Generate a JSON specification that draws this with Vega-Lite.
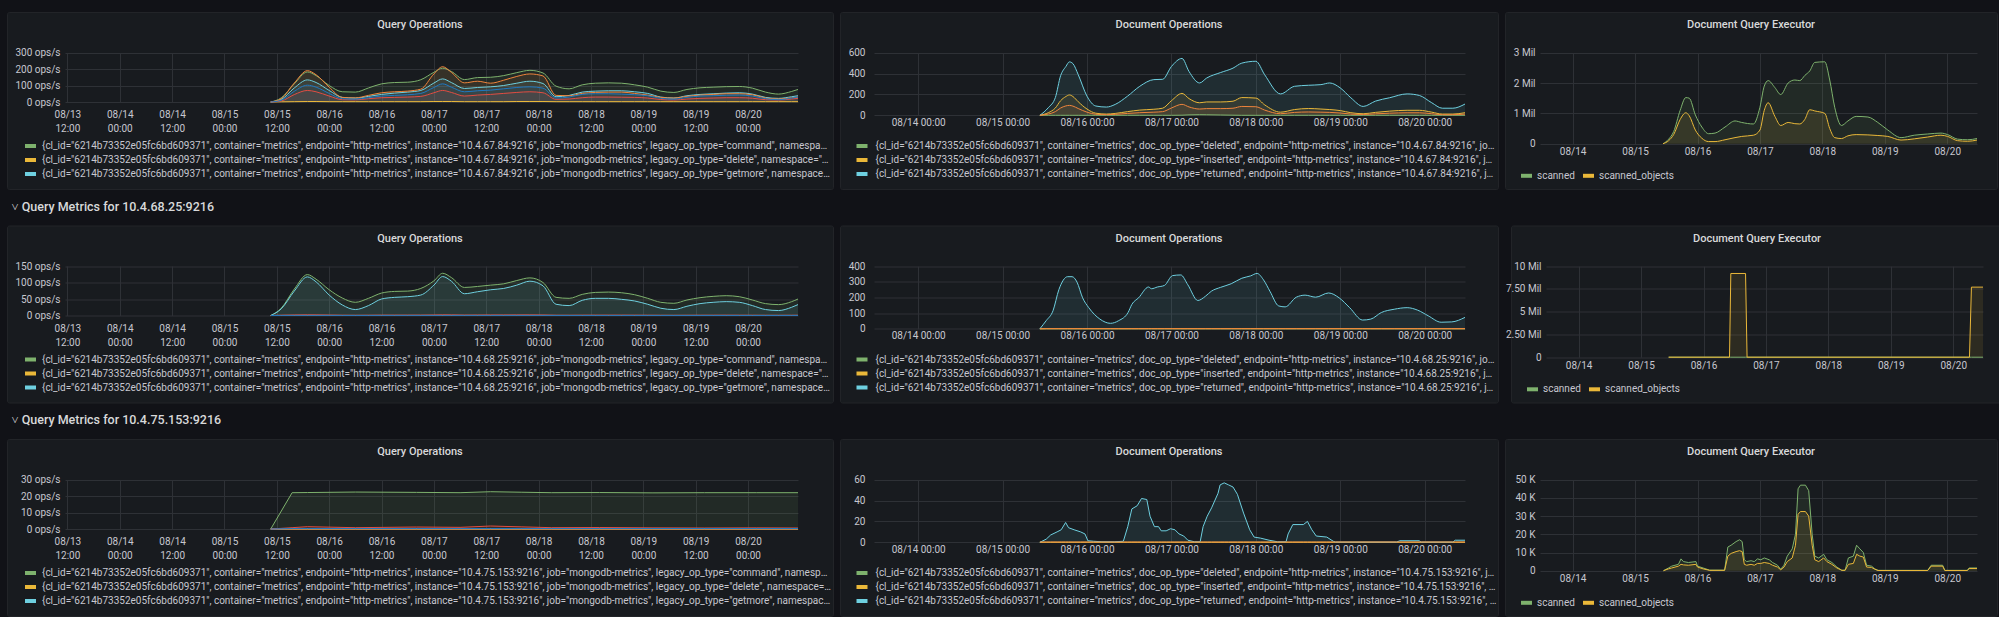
{
  "$schema": "https://vega.github.io/schema/vega-lite/v6.json",
  "background": "#111217",
  "padding": {"left": 6, "top": 11, "right": 7, "bottom": 0},
  "config": {
    "font": "Roboto",
    "view": {"fill": "#181b1f", "stroke": "#222428", "cornerRadius": 2},
    "axis": {"domain": false, "ticks": false, "labelFont": "Roboto", "labelFontSize": 10, "labelColor": "#c7c7cf", "gridColor": "#2e3136", "gridOpacity": 1, "gridWidth": 1, "labelFlush": false, "labelOverlap": false},
    "title": {"font": "Roboto", "fontSize": 11, "fontWeight": 500, "color": "#d8d9da", "offset": -18, "anchor": "middle"},
    "legend": {"labelFont": "Roboto", "labelFontSize": 10, "labelColor": "#c7c7cf", "symbolType": "stroke", "symbolSize": 121, "symbolStrokeWidth": 4, "rowPadding": -3, "padding": 0, "gridAlign": "none"}
  },
  "spacing": 10.5,
  "resolve": {"scale": {"color": "independent"}, "legend": {"color": "independent"}},
  "vconcat": [
    {
      "spacing": 5,
      "resolve": {"scale": {"color": "independent"}, "legend": {"color": "independent"}},
      "hconcat": [
        {
          "width": 826, "height": 177,
          "title": "Query Operations",
          "data": {"values": [
            {"t": "2022-08-15T10:36:00Z", "command": 0, "delete": 0, "getmore": 0, "insert": 0, "query": 0, "update": 0},
            {"t": "2022-08-15T13:00:00Z", "command": 25, "delete": 1, "getmore": 15, "insert": 20, "query": 6, "update": 10},
            {"t": "2022-08-15T16:00:00Z", "command": 110, "delete": 2, "getmore": 85, "insert": 115, "query": 45, "update": 65},
            {"t": "2022-08-15T19:00:00Z", "command": 182, "delete": 3, "getmore": 134, "insert": 190, "query": 70, "update": 102},
            {"t": "2022-08-15T21:00:00Z", "command": 160, "delete": 3, "getmore": 118, "insert": 165, "query": 62, "update": 90},
            {"t": "2022-08-16T00:00:00Z", "command": 100, "delete": 2, "getmore": 70, "insert": 90, "query": 36, "update": 52},
            {"t": "2022-08-16T03:00:00Z", "command": 62, "delete": 2, "getmore": 28, "insert": 28, "query": 14, "update": 20},
            {"t": "2022-08-16T06:00:00Z", "command": 60, "delete": 2, "getmore": 24, "insert": 25, "query": 13, "update": 17},
            {"t": "2022-08-16T09:00:00Z", "command": 85, "delete": 2, "getmore": 34, "insert": 40, "query": 20, "update": 26},
            {"t": "2022-08-16T12:00:00Z", "command": 110, "delete": 2, "getmore": 46, "insert": 56, "query": 26, "update": 36},
            {"t": "2022-08-16T15:00:00Z", "command": 118, "delete": 2, "getmore": 54, "insert": 62, "query": 28, "update": 40},
            {"t": "2022-08-16T18:00:00Z", "command": 120, "delete": 2, "getmore": 60, "insert": 66, "query": 30, "update": 44},
            {"t": "2022-08-16T21:00:00Z", "command": 135, "delete": 2, "getmore": 70, "insert": 78, "query": 34, "update": 52},
            {"t": "2022-08-17T00:00:00Z", "command": 180, "delete": 3, "getmore": 115, "insert": 170, "query": 56, "update": 88},
            {"t": "2022-08-17T02:00:00Z", "command": 205, "delete": 3, "getmore": 140, "insert": 214, "query": 70, "update": 110},
            {"t": "2022-08-17T04:00:00Z", "command": 185, "delete": 3, "getmore": 118, "insert": 180, "query": 58, "update": 90},
            {"t": "2022-08-17T07:00:00Z", "command": 136, "delete": 2, "getmore": 82, "insert": 116, "query": 36, "update": 62},
            {"t": "2022-08-17T10:00:00Z", "command": 148, "delete": 2, "getmore": 88, "insert": 126, "query": 42, "update": 68},
            {"t": "2022-08-17T13:00:00Z", "command": 150, "delete": 2, "getmore": 92, "insert": 114, "query": 46, "update": 72},
            {"t": "2022-08-17T16:00:00Z", "command": 160, "delete": 2, "getmore": 100, "insert": 132, "query": 52, "update": 80},
            {"t": "2022-08-17T19:00:00Z", "command": 178, "delete": 3, "getmore": 114, "insert": 155, "query": 58, "update": 88},
            {"t": "2022-08-17T22:00:00Z", "command": 192, "delete": 3, "getmore": 126, "insert": 170, "query": 62, "update": 92},
            {"t": "2022-08-18T01:00:00Z", "command": 176, "delete": 3, "getmore": 112, "insert": 158, "query": 56, "update": 84},
            {"t": "2022-08-18T04:00:00Z", "command": 96, "delete": 2, "getmore": 32, "insert": 40, "query": 16, "update": 24},
            {"t": "2022-08-18T07:00:00Z", "command": 80, "delete": 2, "getmore": 40, "insert": 38, "query": 18, "update": 30},
            {"t": "2022-08-18T10:00:00Z", "command": 104, "delete": 2, "getmore": 60, "insert": 52, "query": 26, "update": 46},
            {"t": "2022-08-18T13:00:00Z", "command": 114, "delete": 2, "getmore": 66, "insert": 58, "query": 30, "update": 50},
            {"t": "2022-08-18T16:00:00Z", "command": 116, "delete": 2, "getmore": 68, "insert": 60, "query": 30, "update": 50},
            {"t": "2022-08-18T19:00:00Z", "command": 114, "delete": 2, "getmore": 68, "insert": 60, "query": 29, "update": 48},
            {"t": "2022-08-18T22:00:00Z", "command": 104, "delete": 2, "getmore": 62, "insert": 52, "query": 28, "update": 44},
            {"t": "2022-08-19T01:00:00Z", "command": 90, "delete": 2, "getmore": 52, "insert": 42, "query": 24, "update": 38},
            {"t": "2022-08-19T04:00:00Z", "command": 66, "delete": 2, "getmore": 30, "insert": 28, "query": 15, "update": 22},
            {"t": "2022-08-19T07:00:00Z", "command": 58, "delete": 2, "getmore": 24, "insert": 24, "query": 12, "update": 17},
            {"t": "2022-08-19T10:00:00Z", "command": 76, "delete": 2, "getmore": 38, "insert": 34, "query": 18, "update": 28},
            {"t": "2022-08-19T13:00:00Z", "command": 86, "delete": 2, "getmore": 46, "insert": 42, "query": 22, "update": 36},
            {"t": "2022-08-19T16:00:00Z", "command": 90, "delete": 2, "getmore": 50, "insert": 46, "query": 24, "update": 38},
            {"t": "2022-08-19T19:00:00Z", "command": 93, "delete": 2, "getmore": 54, "insert": 50, "query": 26, "update": 41},
            {"t": "2022-08-19T22:00:00Z", "command": 94, "delete": 2, "getmore": 56, "insert": 50, "query": 26, "update": 42},
            {"t": "2022-08-20T01:00:00Z", "command": 84, "delete": 2, "getmore": 48, "insert": 44, "query": 23, "update": 36},
            {"t": "2022-08-20T04:00:00Z", "command": 60, "delete": 2, "getmore": 28, "insert": 24, "query": 14, "update": 20},
            {"t": "2022-08-20T07:00:00Z", "command": 48, "delete": 2, "getmore": 22, "insert": 18, "query": 12, "update": 14},
            {"t": "2022-08-20T10:00:00Z", "command": 64, "delete": 2, "getmore": 32, "insert": 26, "query": 18, "update": 24},
            {"t": "2022-08-20T11:27:00Z", "command": 76, "delete": 2, "getmore": 38, "insert": 30, "query": 22, "update": 30}
          ]},
          "transform": [{"fold": ["command", "delete", "getmore", "insert", "query", "update"], "as": ["op", "v"]}],
          "layer": [
            {
              "mark": {"type": "area", "fillOpacity": 0.1, "interpolate": "monotone"},
              "encoding": {
                "x": {"field": "t", "type": "temporal", "scale": {"type": "utc", "domain": [1660390020000, 1660994820000], "range": [58, 791], "nice": false}, "axis": {"orient": "top", "labels": false, "grid": true, "values": [1660392000000, 1660435200000, 1660478400000, 1660521600000, 1660564800000, 1660608000000, 1660651200000, 1660694400000, 1660737600000, 1660780800000, 1660824000000, 1660867200000, 1660910400000, 1660953600000], "title": null}},
                "y": {"field": "v", "type": "quantitative", "stack": null, "scale": {"domain": [0, 300], "range": [90, 40.5], "nice": false}, "axis": {"values": [0, 100, 200, 300], "labelExpr": "datum.value + ' ops/s'", "offset": -58, "labelPadding": 5, "grid": true, "title": null}},
                "color": {"field": "op", "type": "nominal", "scale": {"domain": ["command", "delete", "getmore", "insert", "query", "update"], "range": ["#7EB26D", "#EAB839", "#6ED0E0", "#EF843C", "#E24D42", "#1F78C1"]}, "legend": null}
              }
            },
            {
              "mark": {"type": "line", "strokeWidth": 1, "interpolate": "monotone"},
              "encoding": {
                "x": {"field": "t", "type": "temporal", "scale": {"type": "utc", "domain": [1660390020000, 1660994820000], "range": [58, 791], "nice": false}, "axis": {"orient": "bottom", "grid": false, "offset": -87, "labelPadding": 7.5, "labelLineHeight": 14, "values": [1660392000000, 1660435200000, 1660478400000, 1660521600000, 1660564800000, 1660608000000, 1660651200000, 1660694400000, 1660737600000, 1660780800000, 1660824000000, 1660867200000, 1660910400000, 1660953600000], "labelExpr": "[utcFormat(datum.value, '%m/%d'), utcFormat(datum.value, '%H:%M')]", "title": null}},
                "y": {"field": "v", "type": "quantitative", "stack": null, "scale": {"domain": [0, 300], "range": [90, 40.5], "nice": false}, "axis": null},
                "color": {"field": "op", "type": "nominal", "scale": {"domain": ["command", "delete", "getmore", "insert", "query", "update"], "range": ["#7EB26D", "#EAB839", "#6ED0E0", "#EF843C", "#E24D42", "#1F78C1"]}, "legend": {"orient": "none", "legendX": 16, "legendY": 126.5, "values": ["command", "delete", "getmore"], "labelLimit": 790, "labelOffset": 4, "title": null, "labelExpr": "'{cl_id=\"6214b73352e05fc6bd609371\", container=\"metrics\", endpoint=\"http-metrics\", instance=\"10.4.67.84:9216\", job=\"mongodb-metrics\", legacy_op_type=\"' + datum.label + '\", namespace=\"monitoring\"}'"}}
              }
            }
          ],
          "resolve": {"axis": {"x": "independent", "y": "independent"}, "legend": {"color": "independent"}}
        },
        {
          "width": 658, "height": 177,
          "title": "Document Operations",
          "data": {"values": [
            {"t": "2022-08-15T10:36:00Z", "deleted": 0, "inserted": 0, "returned": 0, "updated": 0},
            {"t": "2022-08-15T13:00:00Z", "deleted": 0, "inserted": 25, "returned": 73, "updated": 12},
            {"t": "2022-08-15T15:00:00Z", "deleted": 0, "inserted": 70, "returned": 170, "updated": 35},
            {"t": "2022-08-15T16:30:00Z", "deleted": 0, "inserted": 140, "returned": 380, "updated": 70},
            {"t": "2022-08-15T18:00:00Z", "deleted": 0, "inserted": 180, "returned": 468, "updated": 90},
            {"t": "2022-08-15T19:00:00Z", "deleted": 0, "inserted": 195, "returned": 512, "updated": 95},
            {"t": "2022-08-15T20:00:00Z", "deleted": 0, "inserted": 180, "returned": 495, "updated": 88},
            {"t": "2022-08-15T21:30:00Z", "deleted": 0, "inserted": 130, "returned": 390, "updated": 65},
            {"t": "2022-08-16T00:00:00Z", "deleted": 0, "inserted": 60, "returned": 183, "updated": 30},
            {"t": "2022-08-16T02:30:00Z", "deleted": 0, "inserted": 20, "returned": 89, "updated": 10},
            {"t": "2022-08-16T05:30:00Z", "deleted": 0, "inserted": 12, "returned": 79, "updated": 6},
            {"t": "2022-08-16T08:00:00Z", "deleted": 0, "inserted": 18, "returned": 104, "updated": 9},
            {"t": "2022-08-16T11:30:00Z", "deleted": 0, "inserted": 35, "returned": 183, "updated": 18},
            {"t": "2022-08-16T15:00:00Z", "deleted": 0, "inserted": 50, "returned": 278, "updated": 25},
            {"t": "2022-08-16T19:00:00Z", "deleted": 0, "inserted": 58, "returned": 342, "updated": 30},
            {"t": "2022-08-16T21:30:00Z", "deleted": 0, "inserted": 68, "returned": 345, "updated": 35},
            {"t": "2022-08-17T00:00:00Z", "deleted": 0, "inserted": 140, "returned": 468, "updated": 70},
            {"t": "2022-08-17T03:00:00Z", "deleted": 1, "inserted": 210, "returned": 545, "updated": 105},
            {"t": "2022-08-17T05:00:00Z", "deleted": 4, "inserted": 160, "returned": 420, "updated": 80},
            {"t": "2022-08-17T08:00:00Z", "deleted": 6, "inserted": 120, "returned": 310, "updated": 60},
            {"t": "2022-08-17T10:00:00Z", "deleted": 5, "inserted": 128, "returned": 357, "updated": 64},
            {"t": "2022-08-17T14:00:00Z", "deleted": 3, "inserted": 128, "returned": 410, "updated": 64},
            {"t": "2022-08-17T17:30:00Z", "deleted": 1, "inserted": 135, "returned": 452, "updated": 68},
            {"t": "2022-08-17T20:00:00Z", "deleted": 0, "inserted": 170, "returned": 500, "updated": 85},
            {"t": "2022-08-18T00:00:00Z", "deleted": 0, "inserted": 165, "returned": 518, "updated": 82},
            {"t": "2022-08-18T02:30:00Z", "deleted": 0, "inserted": 100, "returned": 389, "updated": 50},
            {"t": "2022-08-18T07:00:00Z", "deleted": 0, "inserted": 30, "returned": 205, "updated": 15},
            {"t": "2022-08-18T11:00:00Z", "deleted": 0, "inserted": 55, "returned": 278, "updated": 28},
            {"t": "2022-08-18T15:00:00Z", "deleted": 0, "inserted": 65, "returned": 288, "updated": 32},
            {"t": "2022-08-18T18:30:00Z", "deleted": 0, "inserted": 60, "returned": 294, "updated": 30},
            {"t": "2022-08-18T21:00:00Z", "deleted": 0, "inserted": 55, "returned": 310, "updated": 28},
            {"t": "2022-08-19T00:00:00Z", "deleted": 0, "inserted": 45, "returned": 262, "updated": 22},
            {"t": "2022-08-19T03:00:00Z", "deleted": 0, "inserted": 25, "returned": 168, "updated": 12},
            {"t": "2022-08-19T06:30:00Z", "deleted": 0, "inserted": 15, "returned": 85, "updated": 8},
            {"t": "2022-08-19T10:00:00Z", "deleted": 0, "inserted": 28, "returned": 136, "updated": 14},
            {"t": "2022-08-19T14:00:00Z", "deleted": 0, "inserted": 40, "returned": 168, "updated": 20},
            {"t": "2022-08-19T19:00:00Z", "deleted": 0, "inserted": 48, "returned": 205, "updated": 24},
            {"t": "2022-08-19T22:30:00Z", "deleted": 0, "inserted": 48, "returned": 190, "updated": 24},
            {"t": "2022-08-20T02:00:00Z", "deleted": 0, "inserted": 30, "returned": 120, "updated": 15},
            {"t": "2022-08-20T05:00:00Z", "deleted": 0, "inserted": 12, "returned": 68, "updated": 6},
            {"t": "2022-08-20T08:00:00Z", "deleted": 0, "inserted": 12, "returned": 68, "updated": 6},
            {"t": "2022-08-20T11:27:00Z", "deleted": 0, "inserted": 25, "returned": 108, "updated": 12}
          ]},
          "transform": [{"fold": ["deleted", "inserted", "returned", "updated"], "as": ["op", "v"]}],
          "layer": [
            {
              "mark": {"type": "area", "fillOpacity": 0.1, "interpolate": "monotone"},
              "encoding": {
                "x": {"field": "t", "type": "temporal", "scale": {"type": "utc", "domain": [1660390020000, 1660994820000], "range": [34, 625], "nice": false}, "axis": {"orient": "top", "labels": false, "grid": true, "values": [1660435200000, 1660521600000, 1660608000000, 1660694400000, 1660780800000, 1660867200000, 1660953600000], "title": null}},
                "y": {"field": "v", "type": "quantitative", "stack": null, "scale": {"domain": [0, 600], "range": [103.3, 40.7], "nice": false}, "axis": {"values": [0, 200, 400, 600], "offset": -34, "labelPadding": 9, "grid": true, "title": null}},
                "color": {"field": "op", "type": "nominal", "scale": {"domain": ["deleted", "inserted", "returned", "updated"], "range": ["#7EB26D", "#EAB839", "#6ED0E0", "#EF843C"]}, "legend": null}
              }
            },
            {
              "mark": {"type": "line", "strokeWidth": 1, "interpolate": "monotone"},
              "encoding": {
                "x": {"field": "t", "type": "temporal", "scale": {"type": "utc", "domain": [1660390020000, 1660994820000], "range": [34, 625], "nice": false}, "axis": {"orient": "bottom", "grid": false, "offset": -73.7, "labelPadding": 2, "values": [1660435200000, 1660521600000, 1660608000000, 1660694400000, 1660780800000, 1660867200000, 1660953600000], "labelExpr": "utcFormat(datum.value, '%m/%d %H:%M')", "title": null}},
                "y": {"field": "v", "type": "quantitative", "stack": null, "scale": {"domain": [0, 600], "range": [103.3, 40.7], "nice": false}, "axis": null},
                "color": {"field": "op", "type": "nominal", "scale": {"domain": ["deleted", "inserted", "returned", "updated"], "range": ["#7EB26D", "#EAB839", "#6ED0E0", "#EF843C"]}, "legend": {"orient": "none", "legendX": 14.5, "legendY": 126.5, "values": ["deleted", "inserted", "returned"], "labelLimit": 622, "labelOffset": 6, "title": null, "labelExpr": "'{cl_id=\"6214b73352e05fc6bd609371\", container=\"metrics\", doc_op_type=\"' + datum.label + '\", endpoint=\"http-metrics\", instance=\"10.4.67.84:9216\", job=\"mongodb-metrics\"}'"}}
              }
            }
          ],
          "resolve": {"axis": {"x": "independent", "y": "independent"}, "legend": {"color": "independent"}}
        },
        {
          "width": 492, "height": 177,
          "title": "Document Query Executor",
          "data": {"values": [
            {"t": "2022-08-15T10:45:00Z", "scanned": 0, "scanned_objects": 0},
            {"t": "2022-08-15T12:55:00Z", "scanned": 150000, "scanned_objects": 100000},
            {"t": "2022-08-15T14:50:00Z", "scanned": 400000, "scanned_objects": 300000},
            {"t": "2022-08-15T17:20:00Z", "scanned": 1100000, "scanned_objects": 800000},
            {"t": "2022-08-15T19:30:00Z", "scanned": 1520000, "scanned_objects": 1020000},
            {"t": "2022-08-15T20:50:00Z", "scanned": 1500000, "scanned_objects": 920000},
            {"t": "2022-08-15T23:10:00Z", "scanned": 950000, "scanned_objects": 450000},
            {"t": "2022-08-16T01:40:00Z", "scanned": 550000, "scanned_objects": 180000},
            {"t": "2022-08-16T04:15:00Z", "scanned": 330000, "scanned_objects": 70000},
            {"t": "2022-08-16T06:45:00Z", "scanned": 350000, "scanned_objects": 70000},
            {"t": "2022-08-16T10:35:00Z", "scanned": 550000, "scanned_objects": 130000},
            {"t": "2022-08-16T14:25:00Z", "scanned": 750000, "scanned_objects": 200000},
            {"t": "2022-08-16T17:00:00Z", "scanned": 700000, "scanned_objects": 240000},
            {"t": "2022-08-16T21:30:00Z", "scanned": 650000, "scanned_objects": 280000},
            {"t": "2022-08-17T00:00:00Z", "scanned": 1200000, "scanned_objects": 450000},
            {"t": "2022-08-17T01:40:00Z", "scanned": 1900000, "scanned_objects": 1100000},
            {"t": "2022-08-17T03:10:00Z", "scanned": 2080000, "scanned_objects": 1350000},
            {"t": "2022-08-17T05:45:00Z", "scanned": 1850000, "scanned_objects": 900000},
            {"t": "2022-08-17T08:00:00Z", "scanned": 1620000, "scanned_objects": 600000},
            {"t": "2022-08-17T10:50:00Z", "scanned": 2000000, "scanned_objects": 700000},
            {"t": "2022-08-17T13:25:00Z", "scanned": 2100000, "scanned_objects": 660000},
            {"t": "2022-08-17T15:20:00Z", "scanned": 2080000, "scanned_objects": 650000},
            {"t": "2022-08-17T17:15:00Z", "scanned": 2250000, "scanned_objects": 800000},
            {"t": "2022-08-17T19:10:00Z", "scanned": 2400000, "scanned_objects": 1120000},
            {"t": "2022-08-17T21:05:00Z", "scanned": 2680000, "scanned_objects": 1080000},
            {"t": "2022-08-18T00:55:00Z", "scanned": 2700000, "scanned_objects": 1000000},
            {"t": "2022-08-18T02:50:00Z", "scanned": 2100000, "scanned_objects": 500000},
            {"t": "2022-08-18T04:45:00Z", "scanned": 1200000, "scanned_objects": 200000},
            {"t": "2022-08-18T07:20:00Z", "scanned": 600000, "scanned_objects": 170000},
            {"t": "2022-08-18T09:50:00Z", "scanned": 750000, "scanned_objects": 260000},
            {"t": "2022-08-18T13:00:00Z", "scanned": 900000, "scanned_objects": 300000},
            {"t": "2022-08-18T17:30:00Z", "scanned": 880000, "scanned_objects": 290000},
            {"t": "2022-08-18T21:20:00Z", "scanned": 700000, "scanned_objects": 270000},
            {"t": "2022-08-19T01:10:00Z", "scanned": 450000, "scanned_objects": 240000},
            {"t": "2022-08-19T06:15:00Z", "scanned": 200000, "scanned_objects": 120000},
            {"t": "2022-08-19T11:20:00Z", "scanned": 280000, "scanned_objects": 160000},
            {"t": "2022-08-19T16:30:00Z", "scanned": 320000, "scanned_objects": 220000},
            {"t": "2022-08-19T21:35:00Z", "scanned": 350000, "scanned_objects": 280000},
            {"t": "2022-08-20T00:10:00Z", "scanned": 300000, "scanned_objects": 240000},
            {"t": "2022-08-20T04:00:00Z", "scanned": 150000, "scanned_objects": 100000},
            {"t": "2022-08-20T07:50:00Z", "scanned": 130000, "scanned_objects": 80000},
            {"t": "2022-08-20T11:27:00Z", "scanned": 170000, "scanned_objects": 120000}
          ]},
          "transform": [{"fold": ["scanned", "scanned_objects"], "as": ["op", "v"]}],
          "layer": [
            {
              "mark": {"type": "area", "fillOpacity": 0.1, "interpolate": "monotone"},
              "encoding": {
                "x": {"field": "t", "type": "temporal", "scale": {"type": "utc", "domain": [1660390020000, 1660994820000], "range": [35, 472], "nice": false}, "axis": {"orient": "top", "labels": false, "grid": true, "values": [1660435200000, 1660521600000, 1660608000000, 1660694400000, 1660780800000, 1660867200000, 1660953600000], "title": null}},
                "y": {"field": "v", "type": "quantitative", "stack": null, "scale": {"domain": [0, 3000000], "range": [131.7, 40.7], "nice": false}, "axis": {"values": [0, 1000000, 2000000, 3000000], "labelExpr": "datum.value == 0 ? '0' : format(datum.value / 1000000, 'd') + ' Mil'", "offset": -35, "labelPadding": 5, "grid": true, "title": null}},
                "color": {"field": "op", "type": "nominal", "scale": {"domain": ["scanned", "scanned_objects"], "range": ["#7EB26D", "#EAB839"]}, "legend": null}
              }
            },
            {
              "mark": {"type": "line", "strokeWidth": 1, "interpolate": "monotone"},
              "encoding": {
                "x": {"field": "t", "type": "temporal", "scale": {"type": "utc", "domain": [1660390020000, 1660994820000], "range": [35, 472], "nice": false}, "axis": {"orient": "bottom", "grid": false, "offset": -45.3, "labelPadding": 3, "values": [1660435200000, 1660521600000, 1660608000000, 1660694400000, 1660780800000, 1660867200000, 1660953600000], "labelExpr": "utcFormat(datum.value, '%m/%d')", "title": null}},
                "y": {"field": "v", "type": "quantitative", "stack": null, "scale": {"domain": [0, 3000000], "range": [131.7, 40.7], "nice": false}, "axis": null},
                "color": {"field": "op", "type": "nominal", "scale": {"domain": ["scanned", "scanned_objects"], "range": ["#7EB26D", "#EAB839"]}, "legend": {"orient": "none", "legendX": 14, "legendY": 156.3, "direction": "horizontal", "columnPadding": 0, "labelOffset": 3, "title": null}}
              }
            }
          ],
          "resolve": {"axis": {"x": "independent", "y": "independent"}, "legend": {"color": "independent"}}
        }
      ]
    },
    {
      "spacing": 5,
      "resolve": {"scale": {"color": "independent"}, "legend": {"color": "independent"}},
      "title": {"text": "˅ Query Metrics for 10.4.68.25:9216", "anchor": "start", "offset": 12, "fontSize": 12.5, "fontWeight": 500, "color": "#d8d9da", "dx": 5},
      "hconcat": [
        {
          "width": 826, "height": 177,
          "title": "Query Operations",
          "data": {"values": [
            {"t": "2022-08-15T10:36:00Z", "command": 0, "delete": 0, "getmore": 0, "insert": 0, "query": 0, "update": 0},
            {"t": "2022-08-15T13:00:00Z", "command": 22, "delete": 0, "getmore": 20, "insert": 0.3, "query": 0.8, "update": 0.2},
            {"t": "2022-08-15T16:00:00Z", "command": 80, "delete": 0, "getmore": 74, "insert": 0.5, "query": 1.5, "update": 0.3},
            {"t": "2022-08-15T19:00:00Z", "command": 124, "delete": 0, "getmore": 117, "insert": 0.5, "query": 2, "update": 0.3},
            {"t": "2022-08-15T21:00:00Z", "command": 110, "delete": 0, "getmore": 102, "insert": 0.5, "query": 1.8, "update": 0.3},
            {"t": "2022-08-16T00:00:00Z", "command": 78, "delete": 0, "getmore": 62, "insert": 0.5, "query": 1.2, "update": 0.3},
            {"t": "2022-08-16T03:00:00Z", "command": 53, "delete": 0, "getmore": 32, "insert": 0.3, "query": 0.8, "update": 0.2},
            {"t": "2022-08-16T06:00:00Z", "command": 40, "delete": 0, "getmore": 18, "insert": 0.3, "query": 0.6, "update": 0.2},
            {"t": "2022-08-16T09:00:00Z", "command": 52, "delete": 0, "getmore": 30, "insert": 0.3, "query": 0.8, "update": 0.2},
            {"t": "2022-08-16T12:00:00Z", "command": 68, "delete": 0, "getmore": 50, "insert": 0.4, "query": 1, "update": 0.3},
            {"t": "2022-08-16T15:00:00Z", "command": 73, "delete": 0, "getmore": 55, "insert": 0.4, "query": 1, "update": 0.3},
            {"t": "2022-08-16T18:00:00Z", "command": 74, "delete": 0, "getmore": 57, "insert": 0.4, "query": 1, "update": 0.3},
            {"t": "2022-08-16T21:00:00Z", "command": 82, "delete": 0, "getmore": 62, "insert": 0.4, "query": 1.1, "update": 0.3},
            {"t": "2022-08-17T00:00:00Z", "command": 105, "delete": 0, "getmore": 92, "insert": 0.5, "query": 1.5, "update": 0.3},
            {"t": "2022-08-17T02:00:00Z", "command": 128, "delete": 0, "getmore": 118, "insert": 0.5, "query": 2, "update": 0.3},
            {"t": "2022-08-17T04:00:00Z", "command": 115, "delete": 0, "getmore": 104, "insert": 0.5, "query": 1.8, "update": 0.3},
            {"t": "2022-08-17T07:00:00Z", "command": 85, "delete": 0, "getmore": 66, "insert": 0.4, "query": 1.2, "update": 0.3},
            {"t": "2022-08-17T10:00:00Z", "command": 88, "delete": 0, "getmore": 72, "insert": 0.4, "query": 1.4, "update": 0.3},
            {"t": "2022-08-17T13:00:00Z", "command": 92, "delete": 0, "getmore": 78, "insert": 0.4, "query": 1.6, "update": 0.3},
            {"t": "2022-08-17T16:00:00Z", "command": 96, "delete": 0, "getmore": 82, "insert": 0.4, "query": 1.6, "update": 0.3},
            {"t": "2022-08-17T19:00:00Z", "command": 106, "delete": 0, "getmore": 92, "insert": 0.5, "query": 1.7, "update": 0.3},
            {"t": "2022-08-17T22:00:00Z", "command": 114, "delete": 0, "getmore": 104, "insert": 0.5, "query": 1.8, "update": 0.3},
            {"t": "2022-08-18T01:00:00Z", "command": 100, "delete": 0, "getmore": 90, "insert": 0.5, "query": 1.5, "update": 0.3},
            {"t": "2022-08-18T04:00:00Z", "command": 55, "delete": 0, "getmore": 34, "insert": 0.3, "query": 0.8, "update": 0.2},
            {"t": "2022-08-18T07:00:00Z", "command": 52, "delete": 0, "getmore": 30, "insert": 0.3, "query": 0.7, "update": 0.2},
            {"t": "2022-08-18T10:00:00Z", "command": 64, "delete": 0, "getmore": 46, "insert": 0.3, "query": 0.9, "update": 0.2},
            {"t": "2022-08-18T13:00:00Z", "command": 70, "delete": 0, "getmore": 52, "insert": 0.3, "query": 1, "update": 0.2},
            {"t": "2022-08-18T16:00:00Z", "command": 71, "delete": 0, "getmore": 52, "insert": 0.3, "query": 1, "update": 0.2},
            {"t": "2022-08-18T19:00:00Z", "command": 69, "delete": 0, "getmore": 49, "insert": 0.3, "query": 1, "update": 0.2},
            {"t": "2022-08-18T22:00:00Z", "command": 63, "delete": 0, "getmore": 44, "insert": 0.3, "query": 0.9, "update": 0.2},
            {"t": "2022-08-19T01:00:00Z", "command": 52, "delete": 0, "getmore": 34, "insert": 0.3, "query": 0.8, "update": 0.2},
            {"t": "2022-08-19T04:00:00Z", "command": 40, "delete": 0, "getmore": 22, "insert": 0.3, "query": 0.6, "update": 0.2},
            {"t": "2022-08-19T07:00:00Z", "command": 37, "delete": 0, "getmore": 18, "insert": 0.3, "query": 0.5, "update": 0.2},
            {"t": "2022-08-19T10:00:00Z", "command": 47, "delete": 0, "getmore": 28, "insert": 0.3, "query": 0.7, "update": 0.2},
            {"t": "2022-08-19T13:00:00Z", "command": 54, "delete": 0, "getmore": 36, "insert": 0.3, "query": 0.8, "update": 0.2},
            {"t": "2022-08-19T16:00:00Z", "command": 58, "delete": 0, "getmore": 40, "insert": 0.3, "query": 0.8, "update": 0.2},
            {"t": "2022-08-19T19:00:00Z", "command": 60, "delete": 0, "getmore": 42, "insert": 0.3, "query": 0.9, "update": 0.2},
            {"t": "2022-08-19T22:00:00Z", "command": 57, "delete": 0, "getmore": 40, "insert": 0.3, "query": 0.8, "update": 0.2},
            {"t": "2022-08-20T01:00:00Z", "command": 47, "delete": 0, "getmore": 30, "insert": 0.3, "query": 0.7, "update": 0.2},
            {"t": "2022-08-20T04:00:00Z", "command": 36, "delete": 0, "getmore": 18, "insert": 0.3, "query": 0.5, "update": 0.2},
            {"t": "2022-08-20T07:00:00Z", "command": 33, "delete": 0, "getmore": 15, "insert": 0.3, "query": 0.5, "update": 0.2},
            {"t": "2022-08-20T10:00:00Z", "command": 42, "delete": 0, "getmore": 25, "insert": 0.3, "query": 0.6, "update": 0.2},
            {"t": "2022-08-20T11:27:00Z", "command": 50, "delete": 0, "getmore": 33, "insert": 0.3, "query": 0.7, "update": 0.2}
          ]},
          "transform": [{"fold": ["command", "delete", "getmore", "insert", "query", "update"], "as": ["op", "v"]}],
          "layer": [
            {
              "mark": {"type": "area", "fillOpacity": 0.1, "interpolate": "monotone"},
              "encoding": {
                "x": {"field": "t", "type": "temporal", "scale": {"type": "utc", "domain": [1660390020000, 1660994820000], "range": [58, 791], "nice": false}, "axis": {"orient": "top", "labels": false, "grid": true, "values": [1660392000000, 1660435200000, 1660478400000, 1660521600000, 1660564800000, 1660608000000, 1660651200000, 1660694400000, 1660737600000, 1660780800000, 1660824000000, 1660867200000, 1660910400000, 1660953600000], "title": null}},
                "y": {"field": "v", "type": "quantitative", "stack": null, "scale": {"domain": [0, 150], "range": [90, 40.5], "nice": false}, "axis": {"values": [0, 50, 100, 150], "labelExpr": "datum.value + ' ops/s'", "offset": -58, "labelPadding": 5, "grid": true, "title": null}},
                "color": {"field": "op", "type": "nominal", "scale": {"domain": ["command", "delete", "getmore", "insert", "query", "update"], "range": ["#7EB26D", "#EAB839", "#6ED0E0", "#EF843C", "#E24D42", "#1F78C1"]}, "legend": null}
              }
            },
            {
              "mark": {"type": "line", "strokeWidth": 1, "interpolate": "monotone"},
              "encoding": {
                "x": {"field": "t", "type": "temporal", "scale": {"type": "utc", "domain": [1660390020000, 1660994820000], "range": [58, 791], "nice": false}, "axis": {"orient": "bottom", "grid": false, "offset": -87, "labelPadding": 7.5, "labelLineHeight": 14, "values": [1660392000000, 1660435200000, 1660478400000, 1660521600000, 1660564800000, 1660608000000, 1660651200000, 1660694400000, 1660737600000, 1660780800000, 1660824000000, 1660867200000, 1660910400000, 1660953600000], "labelExpr": "[utcFormat(datum.value, '%m/%d'), utcFormat(datum.value, '%H:%M')]", "title": null}},
                "y": {"field": "v", "type": "quantitative", "stack": null, "scale": {"domain": [0, 150], "range": [90, 40.5], "nice": false}, "axis": null},
                "color": {"field": "op", "type": "nominal", "scale": {"domain": ["command", "delete", "getmore", "insert", "query", "update"], "range": ["#7EB26D", "#EAB839", "#6ED0E0", "#EF843C", "#E24D42", "#1F78C1"]}, "legend": {"orient": "none", "legendX": 16, "legendY": 126.5, "values": ["command", "delete", "getmore"], "labelLimit": 790, "labelOffset": 4, "title": null, "labelExpr": "'{cl_id=\"6214b73352e05fc6bd609371\", container=\"metrics\", endpoint=\"http-metrics\", instance=\"10.4.68.25:9216\", job=\"mongodb-metrics\", legacy_op_type=\"' + datum.label + '\", namespace=\"monitoring\"}'"}}
              }
            }
          ],
          "resolve": {"axis": {"x": "independent", "y": "independent"}, "legend": {"color": "independent"}}
        },
        {
          "width": 658, "height": 177,
          "title": "Document Operations",
          "data": {"values": [
            {"t": "2022-08-15T10:36:00Z", "deleted": 0, "inserted": 0, "returned": 0, "updated": 0},
            {"t": "2022-08-15T12:24:00Z", "deleted": 0, "inserted": 0.5, "returned": 52, "updated": 1},
            {"t": "2022-08-15T14:20:00Z", "deleted": 0, "inserted": 0.5, "returned": 115, "updated": 1},
            {"t": "2022-08-15T16:00:00Z", "deleted": 0, "inserted": 0.5, "returned": 250, "updated": 1},
            {"t": "2022-08-15T18:30:00Z", "deleted": 0, "inserted": 0.5, "returned": 333, "updated": 1},
            {"t": "2022-08-15T19:45:00Z", "deleted": 0, "inserted": 0.5, "returned": 333, "updated": 1},
            {"t": "2022-08-15T21:10:00Z", "deleted": 0, "inserted": 0.5, "returned": 298, "updated": 1},
            {"t": "2022-08-15T22:45:00Z", "deleted": 0, "inserted": 0.5, "returned": 198, "updated": 1},
            {"t": "2022-08-16T00:30:00Z", "deleted": 0, "inserted": 0.5, "returned": 135, "updated": 1},
            {"t": "2022-08-16T03:40:00Z", "deleted": 0, "inserted": 0.5, "returned": 62, "updated": 1},
            {"t": "2022-08-16T06:40:00Z", "deleted": 0, "inserted": 0.5, "returned": 35, "updated": 1},
            {"t": "2022-08-16T09:00:00Z", "deleted": 0, "inserted": 0.5, "returned": 52, "updated": 1},
            {"t": "2022-08-16T11:40:00Z", "deleted": 0, "inserted": 0.5, "returned": 104, "updated": 1},
            {"t": "2022-08-16T12:45:00Z", "deleted": 0, "inserted": 0.5, "returned": 156, "updated": 1},
            {"t": "2022-08-16T14:40:00Z", "deleted": 0, "inserted": 0.5, "returned": 198, "updated": 1},
            {"t": "2022-08-16T17:30:00Z", "deleted": 0, "inserted": 0.5, "returned": 267, "updated": 1},
            {"t": "2022-08-16T18:20:00Z", "deleted": 0, "inserted": 0.5, "returned": 256, "updated": 1},
            {"t": "2022-08-16T20:00:00Z", "deleted": 0, "inserted": 0.5, "returned": 267, "updated": 1},
            {"t": "2022-08-16T22:00:00Z", "deleted": 0, "inserted": 0.5, "returned": 277, "updated": 1},
            {"t": "2022-08-17T00:20:00Z", "deleted": 0, "inserted": 0.5, "returned": 340, "updated": 1},
            {"t": "2022-08-17T02:40:00Z", "deleted": 0, "inserted": 0.5, "returned": 344, "updated": 1},
            {"t": "2022-08-17T04:40:00Z", "deleted": 0, "inserted": 0.5, "returned": 281, "updated": 1},
            {"t": "2022-08-17T07:30:00Z", "deleted": 0, "inserted": 0.5, "returned": 181, "updated": 1},
            {"t": "2022-08-17T09:40:00Z", "deleted": 0, "inserted": 0.5, "returned": 208, "updated": 1},
            {"t": "2022-08-17T11:20:00Z", "deleted": 0, "inserted": 0.5, "returned": 240, "updated": 1},
            {"t": "2022-08-17T14:00:00Z", "deleted": 0, "inserted": 0.5, "returned": 265, "updated": 1},
            {"t": "2022-08-17T17:00:00Z", "deleted": 0, "inserted": 0.5, "returned": 288, "updated": 1},
            {"t": "2022-08-17T20:00:00Z", "deleted": 0, "inserted": 0.5, "returned": 323, "updated": 1},
            {"t": "2022-08-17T22:30:00Z", "deleted": 0, "inserted": 0.5, "returned": 338, "updated": 1},
            {"t": "2022-08-18T00:20:00Z", "deleted": 0, "inserted": 0.5, "returned": 354, "updated": 1},
            {"t": "2022-08-18T02:10:00Z", "deleted": 0, "inserted": 0.5, "returned": 313, "updated": 1},
            {"t": "2022-08-18T04:00:00Z", "deleted": 0, "inserted": 0.5, "returned": 240, "updated": 1},
            {"t": "2022-08-18T06:30:00Z", "deleted": 0, "inserted": 0.5, "returned": 146, "updated": 1},
            {"t": "2022-08-18T08:20:00Z", "deleted": 0, "inserted": 0.5, "returned": 140, "updated": 1},
            {"t": "2022-08-18T11:30:00Z", "deleted": 0, "inserted": 0.5, "returned": 202, "updated": 1},
            {"t": "2022-08-18T14:00:00Z", "deleted": 0, "inserted": 0.5, "returned": 215, "updated": 1},
            {"t": "2022-08-18T17:00:00Z", "deleted": 0, "inserted": 0.5, "returned": 202, "updated": 1},
            {"t": "2022-08-18T20:40:00Z", "deleted": 0, "inserted": 0.5, "returned": 229, "updated": 1},
            {"t": "2022-08-18T23:40:00Z", "deleted": 0, "inserted": 0.5, "returned": 198, "updated": 1},
            {"t": "2022-08-19T02:40:00Z", "deleted": 0, "inserted": 0.5, "returned": 135, "updated": 1},
            {"t": "2022-08-19T06:20:00Z", "deleted": 0, "inserted": 0.5, "returned": 56, "updated": 1},
            {"t": "2022-08-19T08:40:00Z", "deleted": 0, "inserted": 0.5, "returned": 62, "updated": 1},
            {"t": "2022-08-19T11:40:00Z", "deleted": 0, "inserted": 0.5, "returned": 104, "updated": 1},
            {"t": "2022-08-19T15:20:00Z", "deleted": 0, "inserted": 0.5, "returned": 125, "updated": 1},
            {"t": "2022-08-19T19:00:00Z", "deleted": 0, "inserted": 0.5, "returned": 135, "updated": 1},
            {"t": "2022-08-19T22:00:00Z", "deleted": 0, "inserted": 0.5, "returned": 119, "updated": 1},
            {"t": "2022-08-20T01:00:00Z", "deleted": 0, "inserted": 0.5, "returned": 83, "updated": 1},
            {"t": "2022-08-20T04:40:00Z", "deleted": 0, "inserted": 0.5, "returned": 42, "updated": 1},
            {"t": "2022-08-20T07:40:00Z", "deleted": 0, "inserted": 0.5, "returned": 44, "updated": 1},
            {"t": "2022-08-20T11:27:00Z", "deleted": 0, "inserted": 0.5, "returned": 73, "updated": 1}
          ]},
          "transform": [{"fold": ["deleted", "inserted", "returned", "updated"], "as": ["op", "v"]}],
          "layer": [
            {
              "mark": {"type": "area", "fillOpacity": 0.1, "interpolate": "monotone"},
              "encoding": {
                "x": {"field": "t", "type": "temporal", "scale": {"type": "utc", "domain": [1660390020000, 1660994820000], "range": [34, 625], "nice": false}, "axis": {"orient": "top", "labels": false, "grid": true, "values": [1660435200000, 1660521600000, 1660608000000, 1660694400000, 1660780800000, 1660867200000, 1660953600000], "title": null}},
                "y": {"field": "v", "type": "quantitative", "stack": null, "scale": {"domain": [0, 400], "range": [103.3, 40.7], "nice": false}, "axis": {"values": [0, 100, 200, 300, 400], "offset": -34, "labelPadding": 9, "grid": true, "title": null}},
                "color": {"field": "op", "type": "nominal", "scale": {"domain": ["deleted", "inserted", "returned", "updated"], "range": ["#7EB26D", "#EAB839", "#6ED0E0", "#EF843C"]}, "legend": null}
              }
            },
            {
              "mark": {"type": "line", "strokeWidth": 1, "interpolate": "monotone"},
              "encoding": {
                "x": {"field": "t", "type": "temporal", "scale": {"type": "utc", "domain": [1660390020000, 1660994820000], "range": [34, 625], "nice": false}, "axis": {"orient": "bottom", "grid": false, "offset": -73.7, "labelPadding": 2, "values": [1660435200000, 1660521600000, 1660608000000, 1660694400000, 1660780800000, 1660867200000, 1660953600000], "labelExpr": "utcFormat(datum.value, '%m/%d %H:%M')", "title": null}},
                "y": {"field": "v", "type": "quantitative", "stack": null, "scale": {"domain": [0, 400], "range": [103.3, 40.7], "nice": false}, "axis": null},
                "color": {"field": "op", "type": "nominal", "scale": {"domain": ["deleted", "inserted", "returned", "updated"], "range": ["#7EB26D", "#EAB839", "#6ED0E0", "#EF843C"]}, "legend": {"orient": "none", "legendX": 14.5, "legendY": 126.5, "values": ["deleted", "inserted", "returned"], "labelLimit": 622, "labelOffset": 6, "title": null, "labelExpr": "'{cl_id=\"6214b73352e05fc6bd609371\", container=\"metrics\", doc_op_type=\"' + datum.label + '\", endpoint=\"http-metrics\", instance=\"10.4.68.25:9216\", job=\"mongodb-metrics\"}'"}}
              }
            }
          ],
          "resolve": {"axis": {"x": "independent", "y": "independent"}, "legend": {"color": "independent"}}
        },
        {
          "width": 492, "height": 177,
          "title": "Document Query Executor",
          "data": {"values": [
            {"t": "2022-08-15T10:36:00Z", "scanned": 0, "scanned_objects": 0},
            {"t": "2022-08-16T10:00:00Z", "scanned": 0, "scanned_objects": 0},
            {"t": "2022-08-16T10:30:00Z", "scanned": 0, "scanned_objects": 9200000},
            {"t": "2022-08-16T16:10:00Z", "scanned": 0, "scanned_objects": 9200000},
            {"t": "2022-08-16T16:45:00Z", "scanned": 0, "scanned_objects": 0},
            {"t": "2022-08-20T06:15:00Z", "scanned": 0, "scanned_objects": 0},
            {"t": "2022-08-20T07:00:00Z", "scanned": 0, "scanned_objects": 7700000},
            {"t": "2022-08-20T11:27:00Z", "scanned": 0, "scanned_objects": 7700000}
          ]},
          "transform": [{"fold": ["scanned", "scanned_objects"], "as": ["op", "v"]}],
          "layer": [
            {
              "mark": {"type": "area", "fillOpacity": 0.1, "interpolate": "linear"},
              "encoding": {
                "x": {"field": "t", "type": "temporal", "scale": {"type": "utc", "domain": [1660390020000, 1660994820000], "range": [35, 472], "nice": false}, "axis": {"orient": "top", "labels": false, "grid": true, "values": [1660435200000, 1660521600000, 1660608000000, 1660694400000, 1660780800000, 1660867200000, 1660953600000], "title": null}},
                "y": {"field": "v", "type": "quantitative", "stack": null, "scale": {"domain": [0, 10000000], "range": [131.7, 40.7], "nice": false}, "axis": {"values": [0, 2500000, 5000000, 7500000, 10000000], "labelExpr": "datum.value == 0 ? '0' : (datum.value % 1000000 == 0 ? format(datum.value / 1000000, 'd') : format(datum.value / 1000000, '.2f')) + ' Mil'", "offset": -35, "labelPadding": 5, "grid": true, "title": null}},
                "color": {"field": "op", "type": "nominal", "scale": {"domain": ["scanned", "scanned_objects"], "range": ["#7EB26D", "#EAB839"]}, "legend": null}
              }
            },
            {
              "mark": {"type": "line", "strokeWidth": 1, "interpolate": "linear"},
              "encoding": {
                "x": {"field": "t", "type": "temporal", "scale": {"type": "utc", "domain": [1660390020000, 1660994820000], "range": [35, 472], "nice": false}, "axis": {"orient": "bottom", "grid": false, "offset": -45.3, "labelPadding": 3, "values": [1660435200000, 1660521600000, 1660608000000, 1660694400000, 1660780800000, 1660867200000, 1660953600000], "labelExpr": "utcFormat(datum.value, '%m/%d')", "title": null}},
                "y": {"field": "v", "type": "quantitative", "stack": null, "scale": {"domain": [0, 10000000], "range": [131.7, 40.7], "nice": false}, "axis": null},
                "color": {"field": "op", "type": "nominal", "scale": {"domain": ["scanned", "scanned_objects"], "range": ["#7EB26D", "#EAB839"]}, "legend": {"orient": "none", "legendX": 14, "legendY": 156.3, "direction": "horizontal", "columnPadding": 0, "labelOffset": 3, "title": null}}
              }
            }
          ],
          "resolve": {"axis": {"x": "independent", "y": "independent"}, "legend": {"color": "independent"}}
        }
      ]
    },
    {
      "spacing": 5,
      "resolve": {"scale": {"color": "independent"}, "legend": {"color": "independent"}},
      "title": {"text": "˅ Query Metrics for 10.4.75.153:9216", "anchor": "start", "offset": 12, "fontSize": 12.5, "fontWeight": 500, "color": "#d8d9da", "dx": 5},
      "hconcat": [
        {
          "width": 826, "height": 177,
          "title": "Query Operations",
          "data": {"values": [
            {"t": "2022-08-15T10:36:00Z", "command": 0, "delete": 0, "getmore": 0, "insert": 0, "query": 0, "update": 0},
            {"t": "2022-08-15T15:30:00Z", "command": 22, "delete": 0, "getmore": 0.2, "insert": 0, "query": 0.8, "update": 0.3},
            {"t": "2022-08-15T19:00:00Z", "command": 22.1, "delete": 0, "getmore": 0.2, "insert": 0, "query": 1.4, "update": 0.3},
            {"t": "2022-08-16T06:00:00Z", "command": 22.4, "delete": 0, "getmore": 0.2, "insert": 0, "query": 0.8, "update": 0.3},
            {"t": "2022-08-16T20:00:00Z", "command": 22.2, "delete": 0, "getmore": 0.2, "insert": 0, "query": 1.2, "update": 0.3},
            {"t": "2022-08-17T06:00:00Z", "command": 22, "delete": 0, "getmore": 0.2, "insert": 0, "query": 1, "update": 0.3},
            {"t": "2022-08-17T13:00:00Z", "command": 22.6, "delete": 0, "getmore": 0.2, "insert": 0, "query": 1.8, "update": 0.3},
            {"t": "2022-08-17T20:00:00Z", "command": 22.3, "delete": 0, "getmore": 0.2, "insert": 0, "query": 1.3, "update": 0.3},
            {"t": "2022-08-18T03:00:00Z", "command": 22, "delete": 0, "getmore": 0.2, "insert": 0, "query": 0.8, "update": 0.3},
            {"t": "2022-08-18T14:00:00Z", "command": 22.1, "delete": 0, "getmore": 0.2, "insert": 0, "query": 0.9, "update": 0.3},
            {"t": "2022-08-19T02:00:00Z", "command": 21.9, "delete": 0, "getmore": 0.2, "insert": 0, "query": 0.7, "update": 0.3},
            {"t": "2022-08-19T14:00:00Z", "command": 22, "delete": 0, "getmore": 0.2, "insert": 0, "query": 0.6, "update": 0.3},
            {"t": "2022-08-20T02:00:00Z", "command": 22, "delete": 0, "getmore": 0.2, "insert": 0, "query": 0.7, "update": 0.3},
            {"t": "2022-08-20T11:27:00Z", "command": 22, "delete": 0, "getmore": 0.2, "insert": 0, "query": 0.6, "update": 0.3}
          ]},
          "transform": [{"fold": ["command", "delete", "getmore", "insert", "query", "update"], "as": ["op", "v"]}],
          "layer": [
            {
              "mark": {"type": "area", "fillOpacity": 0.1, "interpolate": "linear"},
              "encoding": {
                "x": {"field": "t", "type": "temporal", "scale": {"type": "utc", "domain": [1660390020000, 1660994820000], "range": [58, 791], "nice": false}, "axis": {"orient": "top", "labels": false, "grid": true, "values": [1660392000000, 1660435200000, 1660478400000, 1660521600000, 1660564800000, 1660608000000, 1660651200000, 1660694400000, 1660737600000, 1660780800000, 1660824000000, 1660867200000, 1660910400000, 1660953600000], "title": null}},
                "y": {"field": "v", "type": "quantitative", "stack": null, "scale": {"domain": [0, 30], "range": [90, 40.5], "nice": false}, "axis": {"values": [0, 10, 20, 30], "labelExpr": "datum.value + ' ops/s'", "offset": -58, "labelPadding": 5, "grid": true, "title": null}},
                "color": {"field": "op", "type": "nominal", "scale": {"domain": ["command", "delete", "getmore", "insert", "query", "update"], "range": ["#7EB26D", "#EAB839", "#6ED0E0", "#EF843C", "#E24D42", "#1F78C1"]}, "legend": null}
              }
            },
            {
              "mark": {"type": "line", "strokeWidth": 1, "interpolate": "linear"},
              "encoding": {
                "x": {"field": "t", "type": "temporal", "scale": {"type": "utc", "domain": [1660390020000, 1660994820000], "range": [58, 791], "nice": false}, "axis": {"orient": "bottom", "grid": false, "offset": -87, "labelPadding": 7.5, "labelLineHeight": 14, "values": [1660392000000, 1660435200000, 1660478400000, 1660521600000, 1660564800000, 1660608000000, 1660651200000, 1660694400000, 1660737600000, 1660780800000, 1660824000000, 1660867200000, 1660910400000, 1660953600000], "labelExpr": "[utcFormat(datum.value, '%m/%d'), utcFormat(datum.value, '%H:%M')]", "title": null}},
                "y": {"field": "v", "type": "quantitative", "stack": null, "scale": {"domain": [0, 30], "range": [90, 40.5], "nice": false}, "axis": null},
                "color": {"field": "op", "type": "nominal", "scale": {"domain": ["command", "delete", "getmore", "insert", "query", "update"], "range": ["#7EB26D", "#EAB839", "#6ED0E0", "#EF843C", "#E24D42", "#1F78C1"]}, "legend": {"orient": "none", "legendX": 16, "legendY": 126.5, "values": ["command", "delete", "getmore"], "labelLimit": 790, "labelOffset": 4, "title": null, "labelExpr": "'{cl_id=\"6214b73352e05fc6bd609371\", container=\"metrics\", endpoint=\"http-metrics\", instance=\"10.4.75.153:9216\", job=\"mongodb-metrics\", legacy_op_type=\"' + datum.label + '\", namespace=\"monitoring\"}'"}}
              }
            }
          ],
          "resolve": {"axis": {"x": "independent", "y": "independent"}, "legend": {"color": "independent"}}
        },
        {
          "width": 658, "height": 177,
          "title": "Document Operations",
          "data": {"values": [
            {"t": "2022-08-15T10:36:00Z", "deleted": 0, "inserted": 0, "returned": 0, "updated": 0.3},
            {"t": "2022-08-15T12:24:00Z", "deleted": 0, "inserted": 0, "returned": 3, "updated": 0.3},
            {"t": "2022-08-15T13:40:00Z", "deleted": 0, "inserted": 0, "returned": 7, "updated": 0.3},
            {"t": "2022-08-15T15:30:00Z", "deleted": 0, "inserted": 0, "returned": 10, "updated": 0.3},
            {"t": "2022-08-15T16:40:00Z", "deleted": 0, "inserted": 0, "returned": 12, "updated": 0.3},
            {"t": "2022-08-15T17:55:00Z", "deleted": 0, "inserted": 0, "returned": 19, "updated": 0.3},
            {"t": "2022-08-15T18:45:00Z", "deleted": 0, "inserted": 0, "returned": 14, "updated": 0.3},
            {"t": "2022-08-15T20:20:00Z", "deleted": 0, "inserted": 0, "returned": 12, "updated": 0.3},
            {"t": "2022-08-15T22:10:00Z", "deleted": 0, "inserted": 0, "returned": 10, "updated": 0.3},
            {"t": "2022-08-15T23:25:00Z", "deleted": 0, "inserted": 0, "returned": 8, "updated": 0.3},
            {"t": "2022-08-16T00:15:00Z", "deleted": 0, "inserted": 0, "returned": 1.5, "updated": 0.3},
            {"t": "2022-08-16T01:50:00Z", "deleted": 0, "inserted": 0, "returned": 1, "updated": 0.3},
            {"t": "2022-08-16T04:15:00Z", "deleted": 0, "inserted": 0, "returned": 0.5, "updated": 0.3},
            {"t": "2022-08-16T07:55:00Z", "deleted": 0, "inserted": 0, "returned": 0.5, "updated": 0.3},
            {"t": "2022-08-16T10:20:00Z", "deleted": 0, "inserted": 0, "returned": 1, "updated": 0.3},
            {"t": "2022-08-16T11:35:00Z", "deleted": 0, "inserted": 0, "returned": 15, "updated": 0.3},
            {"t": "2022-08-16T12:45:00Z", "deleted": 0, "inserted": 0, "returned": 32, "updated": 0.3},
            {"t": "2022-08-16T14:15:00Z", "deleted": 0, "inserted": 0, "returned": 35, "updated": 0.3},
            {"t": "2022-08-16T15:30:00Z", "deleted": 0, "inserted": 0, "returned": 42, "updated": 0.3},
            {"t": "2022-08-16T17:00:00Z", "deleted": 0, "inserted": 0, "returned": 41, "updated": 0.3},
            {"t": "2022-08-16T17:55:00Z", "deleted": 0, "inserted": 0, "returned": 25, "updated": 0.3},
            {"t": "2022-08-16T19:10:00Z", "deleted": 0, "inserted": 0, "returned": 15, "updated": 0.3},
            {"t": "2022-08-16T20:20:00Z", "deleted": 0, "inserted": 0, "returned": 15, "updated": 0.3},
            {"t": "2022-08-16T21:05:00Z", "deleted": 0, "inserted": 0, "returned": 11, "updated": 0.3},
            {"t": "2022-08-16T22:30:00Z", "deleted": 0, "inserted": 0, "returned": 11, "updated": 0.3},
            {"t": "2022-08-16T23:45:00Z", "deleted": 0, "inserted": 0, "returned": 13, "updated": 0.3},
            {"t": "2022-08-17T01:00:00Z", "deleted": 0, "inserted": 0, "returned": 12, "updated": 0.3},
            {"t": "2022-08-17T02:10:00Z", "deleted": 0, "inserted": 0, "returned": 8, "updated": 0.3},
            {"t": "2022-08-17T03:30:00Z", "deleted": 0, "inserted": 0, "returned": 6, "updated": 0.3},
            {"t": "2022-08-17T04:40:00Z", "deleted": 0, "inserted": 0, "returned": 2, "updated": 0.3},
            {"t": "2022-08-17T06:30:00Z", "deleted": 0, "inserted": 0, "returned": 0.5, "updated": 0.3},
            {"t": "2022-08-17T08:10:00Z", "deleted": 0, "inserted": 0, "returned": 0.5, "updated": 0.3},
            {"t": "2022-08-17T09:00:00Z", "deleted": 0, "inserted": 0, "returned": 15, "updated": 0.3},
            {"t": "2022-08-17T10:10:00Z", "deleted": 0, "inserted": 0, "returned": 25, "updated": 0.3},
            {"t": "2022-08-17T11:25:00Z", "deleted": 0, "inserted": 0, "returned": 33, "updated": 0.3},
            {"t": "2022-08-17T13:15:00Z", "deleted": 0, "inserted": 0, "returned": 47, "updated": 0.3},
            {"t": "2022-08-17T13:50:00Z", "deleted": 0, "inserted": 0, "returned": 55, "updated": 0.3},
            {"t": "2022-08-17T15:00:00Z", "deleted": 0, "inserted": 0, "returned": 57, "updated": 0.3},
            {"t": "2022-08-17T16:15:00Z", "deleted": 0, "inserted": 0, "returned": 55, "updated": 0.3},
            {"t": "2022-08-17T17:30:00Z", "deleted": 0, "inserted": 0, "returned": 53, "updated": 0.3},
            {"t": "2022-08-17T18:45:00Z", "deleted": 0, "inserted": 0, "returned": 46, "updated": 0.3},
            {"t": "2022-08-17T20:30:00Z", "deleted": 0, "inserted": 0, "returned": 28, "updated": 0.3},
            {"t": "2022-08-17T22:15:00Z", "deleted": 0, "inserted": 0, "returned": 12, "updated": 0.3},
            {"t": "2022-08-17T23:30:00Z", "deleted": 0, "inserted": 0, "returned": 5, "updated": 0.3},
            {"t": "2022-08-18T01:20:00Z", "deleted": 0, "inserted": 0, "returned": 4, "updated": 0.3},
            {"t": "2022-08-18T03:45:00Z", "deleted": 0, "inserted": 0, "returned": 2, "updated": 0.3},
            {"t": "2022-08-18T06:10:00Z", "deleted": 0, "inserted": 0, "returned": 0.5, "updated": 0.3},
            {"t": "2022-08-18T08:35:00Z", "deleted": 0, "inserted": 0, "returned": 0.5, "updated": 0.3},
            {"t": "2022-08-18T09:10:00Z", "deleted": 0, "inserted": 0, "returned": 8, "updated": 0.3},
            {"t": "2022-08-18T10:30:00Z", "deleted": 0, "inserted": 0, "returned": 17, "updated": 0.3},
            {"t": "2022-08-18T13:30:00Z", "deleted": 0, "inserted": 0, "returned": 17, "updated": 0.3},
            {"t": "2022-08-18T14:40:00Z", "deleted": 0, "inserted": 0, "returned": 20, "updated": 0.3},
            {"t": "2022-08-18T15:55:00Z", "deleted": 0, "inserted": 0, "returned": 12, "updated": 0.3},
            {"t": "2022-08-18T17:10:00Z", "deleted": 0, "inserted": 0, "returned": 6, "updated": 0.3},
            {"t": "2022-08-18T20:10:00Z", "deleted": 0, "inserted": 0, "returned": 5, "updated": 0.3},
            {"t": "2022-08-18T22:00:00Z", "deleted": 0, "inserted": 0, "returned": 1, "updated": 0.3},
            {"t": "2022-08-18T22:40:00Z", "deleted": 0, "inserted": 0, "returned": 0.2, "updated": 0.3},
            {"t": "2022-08-19T16:00:00Z", "deleted": 0, "inserted": 0, "returned": 0.2, "updated": 0.3},
            {"t": "2022-08-19T16:55:00Z", "deleted": 0, "inserted": 0, "returned": 1.5, "updated": 0.3},
            {"t": "2022-08-19T22:25:00Z", "deleted": 0, "inserted": 0, "returned": 1.5, "updated": 0.3},
            {"t": "2022-08-19T23:00:00Z", "deleted": 0, "inserted": 0, "returned": 0.2, "updated": 0.3},
            {"t": "2022-08-20T08:00:00Z", "deleted": 0, "inserted": 0, "returned": 0.2, "updated": 0.3},
            {"t": "2022-08-20T08:40:00Z", "deleted": 0, "inserted": 0, "returned": 2, "updated": 0.3},
            {"t": "2022-08-20T11:27:00Z", "deleted": 0, "inserted": 0, "returned": 2, "updated": 0.3}
          ]},
          "transform": [{"fold": ["deleted", "inserted", "returned", "updated"], "as": ["op", "v"]}],
          "layer": [
            {
              "mark": {"type": "area", "fillOpacity": 0.1, "interpolate": "linear"},
              "encoding": {
                "x": {"field": "t", "type": "temporal", "scale": {"type": "utc", "domain": [1660390020000, 1660994820000], "range": [34, 625], "nice": false}, "axis": {"orient": "top", "labels": false, "grid": true, "values": [1660435200000, 1660521600000, 1660608000000, 1660694400000, 1660780800000, 1660867200000, 1660953600000], "title": null}},
                "y": {"field": "v", "type": "quantitative", "stack": null, "scale": {"domain": [0, 60], "range": [103.3, 40.7], "nice": false}, "axis": {"values": [0, 20, 40, 60], "offset": -34, "labelPadding": 9, "grid": true, "title": null}},
                "color": {"field": "op", "type": "nominal", "scale": {"domain": ["deleted", "inserted", "returned", "updated"], "range": ["#7EB26D", "#EAB839", "#6ED0E0", "#EF843C"]}, "legend": null}
              }
            },
            {
              "mark": {"type": "line", "strokeWidth": 1, "interpolate": "linear"},
              "encoding": {
                "x": {"field": "t", "type": "temporal", "scale": {"type": "utc", "domain": [1660390020000, 1660994820000], "range": [34, 625], "nice": false}, "axis": {"orient": "bottom", "grid": false, "offset": -73.7, "labelPadding": 2, "values": [1660435200000, 1660521600000, 1660608000000, 1660694400000, 1660780800000, 1660867200000, 1660953600000], "labelExpr": "utcFormat(datum.value, '%m/%d %H:%M')", "title": null}},
                "y": {"field": "v", "type": "quantitative", "stack": null, "scale": {"domain": [0, 60], "range": [103.3, 40.7], "nice": false}, "axis": null},
                "color": {"field": "op", "type": "nominal", "scale": {"domain": ["deleted", "inserted", "returned", "updated"], "range": ["#7EB26D", "#EAB839", "#6ED0E0", "#EF843C"]}, "legend": {"orient": "none", "legendX": 14.5, "legendY": 126.5, "values": ["deleted", "inserted", "returned"], "labelLimit": 622, "labelOffset": 6, "title": null, "labelExpr": "'{cl_id=\"6214b73352e05fc6bd609371\", container=\"metrics\", doc_op_type=\"' + datum.label + '\", endpoint=\"http-metrics\", instance=\"10.4.75.153:9216\", job=\"mongodb-metrics\"}'"}}
              }
            }
          ],
          "resolve": {"axis": {"x": "independent", "y": "independent"}, "legend": {"color": "independent"}}
        },
        {
          "width": 492, "height": 177,
          "title": "Document Query Executor",
          "data": {"values": [
            {"t": "2022-08-15T10:55:00Z", "scanned": 0, "scanned_objects": 0},
            {"t": "2022-08-15T12:50:00Z", "scanned": 1500, "scanned_objects": 1000},
            {"t": "2022-08-15T14:05:00Z", "scanned": 2500, "scanned_objects": 1500},
            {"t": "2022-08-15T16:40:00Z", "scanned": 3500, "scanned_objects": 2500},
            {"t": "2022-08-15T17:40:00Z", "scanned": 6500, "scanned_objects": 3500},
            {"t": "2022-08-15T18:35:00Z", "scanned": 5000, "scanned_objects": 3200},
            {"t": "2022-08-15T20:30:00Z", "scanned": 4500, "scanned_objects": 3000},
            {"t": "2022-08-15T23:25:00Z", "scanned": 5000, "scanned_objects": 3500},
            {"t": "2022-08-16T00:00:00Z", "scanned": 2500, "scanned_objects": 2000},
            {"t": "2022-08-16T02:10:00Z", "scanned": 1500, "scanned_objects": 1000},
            {"t": "2022-08-16T04:40:00Z", "scanned": 300, "scanned_objects": 200},
            {"t": "2022-08-16T10:25:00Z", "scanned": 300, "scanned_objects": 200},
            {"t": "2022-08-16T11:40:00Z", "scanned": 13000, "scanned_objects": 8000},
            {"t": "2022-08-16T12:55:00Z", "scanned": 14000, "scanned_objects": 9500},
            {"t": "2022-08-16T14:50:00Z", "scanned": 16000, "scanned_objects": 10500},
            {"t": "2022-08-16T16:10:00Z", "scanned": 17000, "scanned_objects": 11000},
            {"t": "2022-08-16T17:10:00Z", "scanned": 16000, "scanned_objects": 10500},
            {"t": "2022-08-16T18:00:00Z", "scanned": 6000, "scanned_objects": 3500},
            {"t": "2022-08-16T18:55:00Z", "scanned": 5000, "scanned_objects": 3000},
            {"t": "2022-08-16T20:35:00Z", "scanned": 5500, "scanned_objects": 3500},
            {"t": "2022-08-16T21:50:00Z", "scanned": 5000, "scanned_objects": 3000},
            {"t": "2022-08-16T23:05:00Z", "scanned": 6500, "scanned_objects": 4000},
            {"t": "2022-08-17T00:20:00Z", "scanned": 6000, "scanned_objects": 4000},
            {"t": "2022-08-17T01:40:00Z", "scanned": 7000, "scanned_objects": 4500},
            {"t": "2022-08-17T03:35:00Z", "scanned": 6000, "scanned_objects": 4000},
            {"t": "2022-08-17T04:50:00Z", "scanned": 4500, "scanned_objects": 3000},
            {"t": "2022-08-17T06:45:00Z", "scanned": 3000, "scanned_objects": 2000},
            {"t": "2022-08-17T08:00:00Z", "scanned": 800, "scanned_objects": 500},
            {"t": "2022-08-17T09:15:00Z", "scanned": 3000, "scanned_objects": 2000},
            {"t": "2022-08-17T10:30:00Z", "scanned": 8000, "scanned_objects": 5000},
            {"t": "2022-08-17T12:25:00Z", "scanned": 12000, "scanned_objects": 7000},
            {"t": "2022-08-17T13:40:00Z", "scanned": 20000, "scanned_objects": 14000},
            {"t": "2022-08-17T14:40:00Z", "scanned": 45000, "scanned_objects": 31000},
            {"t": "2022-08-17T15:35:00Z", "scanned": 47000, "scanned_objects": 32500},
            {"t": "2022-08-17T17:30:00Z", "scanned": 47000, "scanned_objects": 32500},
            {"t": "2022-08-17T18:45:00Z", "scanned": 44000, "scanned_objects": 30000},
            {"t": "2022-08-17T20:05:00Z", "scanned": 20000, "scanned_objects": 14000},
            {"t": "2022-08-17T21:05:00Z", "scanned": 8000, "scanned_objects": 6000},
            {"t": "2022-08-17T22:35:00Z", "scanned": 7000, "scanned_objects": 5000},
            {"t": "2022-08-18T00:30:00Z", "scanned": 9000, "scanned_objects": 7000},
            {"t": "2022-08-18T01:45:00Z", "scanned": 6000, "scanned_objects": 5000},
            {"t": "2022-08-18T03:40:00Z", "scanned": 4500, "scanned_objects": 3500},
            {"t": "2022-08-18T05:35:00Z", "scanned": 2000, "scanned_objects": 1500},
            {"t": "2022-08-18T07:30:00Z", "scanned": 200, "scanned_objects": 200},
            {"t": "2022-08-18T08:45:00Z", "scanned": 300, "scanned_objects": 200},
            {"t": "2022-08-18T10:00:00Z", "scanned": 7000, "scanned_objects": 3500},
            {"t": "2022-08-18T11:55:00Z", "scanned": 8000, "scanned_objects": 4000},
            {"t": "2022-08-18T13:10:00Z", "scanned": 14000, "scanned_objects": 9000},
            {"t": "2022-08-18T14:25:00Z", "scanned": 12000, "scanned_objects": 8000},
            {"t": "2022-08-18T15:45:00Z", "scanned": 10000, "scanned_objects": 7500},
            {"t": "2022-08-18T17:00:00Z", "scanned": 3000, "scanned_objects": 2000},
            {"t": "2022-08-18T18:55:00Z", "scanned": 2500, "scanned_objects": 1800},
            {"t": "2022-08-18T20:10:00Z", "scanned": 1000, "scanned_objects": 800},
            {"t": "2022-08-18T21:25:00Z", "scanned": 200, "scanned_objects": 100},
            {"t": "2022-08-19T16:30:00Z", "scanned": 200, "scanned_objects": 100},
            {"t": "2022-08-19T17:50:00Z", "scanned": 3000, "scanned_objects": 2500},
            {"t": "2022-08-19T22:15:00Z", "scanned": 3000, "scanned_objects": 2500},
            {"t": "2022-08-19T23:05:00Z", "scanned": 200, "scanned_objects": 100},
            {"t": "2022-08-20T07:45:00Z", "scanned": 200, "scanned_objects": 100},
            {"t": "2022-08-20T08:25:00Z", "scanned": 1500, "scanned_objects": 1200},
            {"t": "2022-08-20T11:27:00Z", "scanned": 1500, "scanned_objects": 1200}
          ]},
          "transform": [{"fold": ["scanned", "scanned_objects"], "as": ["op", "v"]}],
          "layer": [
            {
              "mark": {"type": "area", "fillOpacity": 0.1, "interpolate": "linear"},
              "encoding": {
                "x": {"field": "t", "type": "temporal", "scale": {"type": "utc", "domain": [1660390020000, 1660994820000], "range": [35, 472], "nice": false}, "axis": {"orient": "top", "labels": false, "grid": true, "values": [1660435200000, 1660521600000, 1660608000000, 1660694400000, 1660780800000, 1660867200000, 1660953600000], "title": null}},
                "y": {"field": "v", "type": "quantitative", "stack": null, "scale": {"domain": [0, 50000], "range": [131.7, 40.7], "nice": false}, "axis": {"values": [0, 10000, 20000, 30000, 40000, 50000], "labelExpr": "datum.value == 0 ? '0' : format(datum.value / 1000, 'd') + ' K'", "offset": -35, "labelPadding": 5, "grid": true, "title": null}},
                "color": {"field": "op", "type": "nominal", "scale": {"domain": ["scanned", "scanned_objects"], "range": ["#7EB26D", "#EAB839"]}, "legend": null}
              }
            },
            {
              "mark": {"type": "line", "strokeWidth": 1, "interpolate": "linear"},
              "encoding": {
                "x": {"field": "t", "type": "temporal", "scale": {"type": "utc", "domain": [1660390020000, 1660994820000], "range": [35, 472], "nice": false}, "axis": {"orient": "bottom", "grid": false, "offset": -45.3, "labelPadding": 3, "values": [1660435200000, 1660521600000, 1660608000000, 1660694400000, 1660780800000, 1660867200000, 1660953600000], "labelExpr": "utcFormat(datum.value, '%m/%d')", "title": null}},
                "y": {"field": "v", "type": "quantitative", "stack": null, "scale": {"domain": [0, 50000], "range": [131.7, 40.7], "nice": false}, "axis": null},
                "color": {"field": "op", "type": "nominal", "scale": {"domain": ["scanned", "scanned_objects"], "range": ["#7EB26D", "#EAB839"]}, "legend": {"orient": "none", "legendX": 14, "legendY": 156.3, "direction": "horizontal", "columnPadding": 0, "labelOffset": 3, "title": null}}
              }
            }
          ],
          "resolve": {"axis": {"x": "independent", "y": "independent"}, "legend": {"color": "independent"}}
        }
      ]
    }
  ]
}
